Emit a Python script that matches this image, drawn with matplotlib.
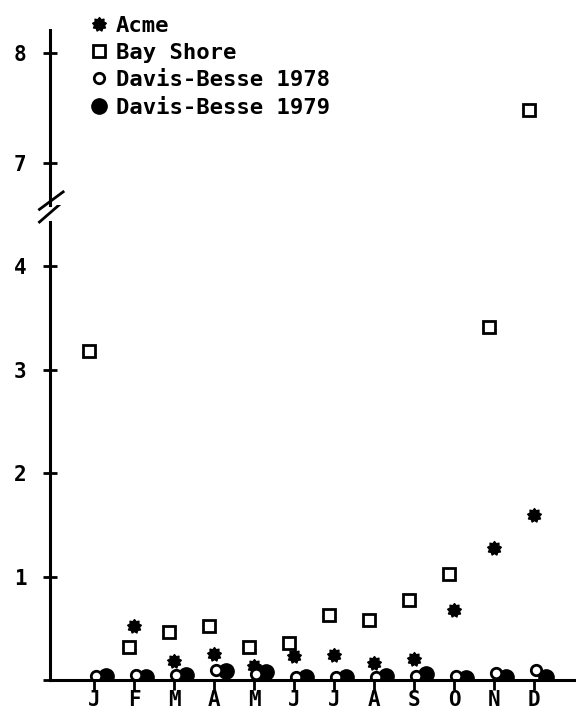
import numpy as np
import matplotlib.pyplot as plt
from matplotlib.lines import Line2D
from matplotlib.path import Path

plt.rcParams['font.family'] = ['DejaVu Sans Mono', 'DejaVu Sans']
plt.rcParams['font.weight'] = 'bold'

months = ['J', 'F', 'M', 'A', 'M', 'J', 'J', 'A', 'S', 'O', 'N', 'D']
acme = [np.nan, 0.52, 0.18, 0.25, 0.14, 0.23, 0.24, 0.16, 0.20, 0.68, 1.28, 1.60]
bay_shore = [3.18, 0.32, 0.46, 0.52, 0.32, 0.36, 0.63, 0.58, 0.77, 1.03, 3.41, 7.48]
db_1978 = [0.04, 0.05, 0.05, 0.10, 0.06, 0.03, 0.03, 0.03, 0.04, 0.04, 0.065, 0.10]
db_1979 = [0.04, 0.03, 0.05, 0.09, 0.08, 0.025, 0.025, 0.04, 0.06, 0.015, 0.025, 0.025]

x = np.arange(len(months))
fs = 15

fig = plt.figure(figsize=(5.76, 7.13), dpi=100)
ax = fig.add_axes([0.0868, 0.0463, 0.9132, 0.6423])
ax_top = fig.add_axes([0.0868, 0.7125, 0.9132, 0.2454], sharex=ax)

# blobby star used for the Acme points
star = Path.unit_regular_star(9, innerCircle=0.72)


def draw(a):
    a.plot(x - 0.12, bay_shore, ls='none', marker='s', ms=8.5, mfc='white',
           mec='black', mew=2.0, zorder=4)
    a.plot(x, acme, ls='none', marker=star, ms=10, color='black', zorder=5)
    a.plot(x + 0.06, db_1978, ls='none', marker='o', ms=7.5, mfc='white',
           mec='black', mew=2.0, zorder=6)
    a.plot(x + 0.3, db_1979, ls='none', marker='o', ms=11, color='black',
           zorder=3)


draw(ax)
draw(ax_top)

ax.set_xlim(-1.1, 12.05)
ax.set_ylim(0, 4.43)
ax_top.set_ylim(6.62, 8.21)

for a in (ax, ax_top):
    for s in ('top', 'right'):
        a.spines[s].set_visible(False)
    a.spines['left'].set_linewidth(2.2)
    a.tick_params(axis='y', direction='inout', length=10, width=2,
                  pad=12, labelsize=fs)
ax_top.spines['bottom'].set_visible(False)
ax_top.tick_params(axis='x', bottom=False, labelbottom=False)
ax.spines['bottom'].set_linewidth(2.2)
ax.spines['bottom'].set_zorder(7)

ax.set_yticks([0, 1, 2, 3, 4])
ax.set_yticklabels(['', '1', '2', '3', '4'])
ax_top.set_yticks([7, 8])
ax.set_xticks(x)
ax.set_xticklabels(months)
ax.tick_params(axis='x', direction='out', length=7, width=2, pad=0,
               labelsize=fs)

# axis break marks
kw = dict(color='black', lw=2, clip_on=False)
ax.plot([-0.02, 0.025], [1.0, 1.045], transform=ax.transAxes, **kw)
ax_top.plot([-0.02, 0.025], [-0.025, 0.075], transform=ax_top.transAxes, **kw)

handles = [
    Line2D([], [], ls='none', marker=star, ms=10, color='black'),
    Line2D([], [], ls='none', marker='s', ms=8.5, mfc='white', mec='black', mew=2.0),
    Line2D([], [], ls='none', marker='o', ms=7.5, mfc='white', mec='black', mew=2.0),
    Line2D([], [], ls='none', marker='o', ms=11, color='black'),
]
labels = ['Acme', 'Bay Shore', 'Davis-Besse 1978', 'Davis-Besse 1979']
fig.legend(handles, labels, loc='upper left', bbox_to_anchor=(0.13, 1.0),
           frameon=False, handlelength=0.8, handletextpad=0.35,
           labelspacing=0.33, borderpad=0.2, prop={'size': 16, 'weight': 'bold'})

fig.savefig('out.png', dpi=100)
